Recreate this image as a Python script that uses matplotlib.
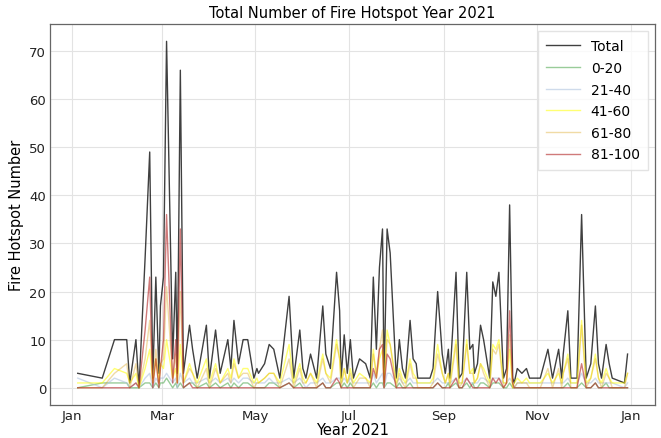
import matplotlib
matplotlib.use("Agg")
import matplotlib.pyplot as plt
import matplotlib.dates as mdates
import numpy as np
import pandas as pd

# Day-of-year offsets (from 2021-01-01) at which observations exist
days = [4, 20, 28, 36, 38, 42, 44, 48, 51, 53, 55, 57, 58, 60, 62, 66, 68, 69, 71, 73,
        77, 79, 82, 88, 90, 94, 97, 102, 104, 106, 109, 112, 115, 119, 121, 122, 126, 129, 132, 136,
        142, 145, 149, 151, 153, 156, 160, 164, 166, 169, 173, 175, 176, 178, 180, 182, 184, 188, 192, 195,
        197, 199, 201, 203, 204, 206, 208, 212, 214, 216, 218, 221, 223, 225, 226, 234, 236, 239, 242, 244,
        246, 247, 251, 253, 255, 258, 260, 262, 263, 265, 267, 269, 273, 275, 277, 279, 282, 284, 286, 288,
        289, 291, 294, 297, 299, 306, 311, 314, 318, 320, 321, 324, 326, 330, 333, 336, 339, 342, 344, 346,
        349, 351, 353, 361, 363]

total = [3, 2, 10, 10, 1, 10, 0, 27, 49, 2, 23, 3, 17, 23, 72, 6, 24, 3, 66, 3,
         13, 8, 2, 13, 2, 12, 3, 10, 4, 14, 5, 10, 10, 2, 4, 3, 5, 9, 8, 2,
         19, 2, 12, 4, 2, 7, 2, 17, 7, 4, 24, 16, 2, 11, 3, 10, 2, 6, 5, 2,
         23, 8, 25, 33, 1, 33, 28, 2, 10, 4, 2, 14, 6, 5, 2, 2, 4, 20, 7, 3,
         8, 2, 24, 2, 3, 24, 8, 9, 3, 5, 13, 10, 2, 22, 19, 24, 2, 4, 38, 2,
         1, 4, 3, 4, 2, 2, 8, 2, 8, 2, 7, 16, 2, 2, 36, 2, 5, 17, 5, 2,
         9, 5, 2, 1, 7]

c_0_20 = [0, 1, 1, 1, 0, 0, 0, 1, 1, 0, 1, 0, 1, 1, 2, 0, 1, 0, 1, 0,
          1, 1, 0, 1, 0, 1, 0, 1, 0, 1, 0, 1, 1, 0, 0, 0, 0, 1, 1, 0,
          1, 0, 1, 0, 0, 0, 0, 1, 0, 0, 1, 1, 0, 1, 0, 1, 0, 0, 0, 0,
          1, 0, 1, 1, 0, 1, 1, 0, 1, 0, 0, 1, 0, 0, 0, 0, 0, 1, 0, 0,
          1, 0, 1, 0, 0, 1, 0, 1, 0, 0, 1, 1, 0, 1, 1, 1, 0, 0, 1, 0,
          0, 0, 0, 0, 0, 0, 0, 0, 0, 0, 0, 1, 0, 0, 1, 0, 0, 1, 0, 0,
          1, 0, 0, 0, 0]

c_21_40 = [2, 0, 2, 1, 0, 1, 0, 2, 3, 0, 2, 1, 2, 2, 3, 1, 2, 0, 3, 1,
           2, 1, 1, 2, 1, 2, 1, 2, 1, 2, 1, 2, 2, 1, 1, 1, 1, 2, 1, 1,
           2, 1, 2, 1, 0, 1, 1, 2, 1, 1, 2, 2, 1, 2, 1, 2, 1, 1, 1, 1,
           3, 1, 2, 3, 0, 3, 3, 1, 2, 1, 1, 2, 1, 1, 1, 1, 1, 2, 1, 1,
           1, 1, 2, 1, 1, 2, 1, 1, 1, 1, 2, 2, 1, 2, 2, 2, 1, 1, 2, 1,
           0, 1, 1, 1, 1, 1, 1, 1, 1, 1, 1, 2, 1, 1, 3, 1, 1, 2, 1, 1,
           1, 1, 1, 0, 1]

c_41_60 = [1, 1, 4, 3, 1, 3, 0, 4, 8, 1, 6, 1, 5, 4, 10, 2, 4, 1, 9, 1,
           5, 3, 1, 6, 1, 5, 1, 4, 2, 6, 2, 4, 4, 1, 2, 1, 2, 3, 3, 1,
           9, 1, 5, 2, 1, 3, 1, 7, 3, 2, 10, 6, 1, 4, 1, 4, 1, 3, 2, 1,
           8, 2, 6, 8, 1, 12, 9, 1, 4, 2, 1, 6, 3, 2, 1, 1, 2, 9, 3, 1,
           3, 1, 10, 1, 1, 10, 3, 4, 1, 2, 5, 4, 1, 9, 8, 10, 1, 1, 8, 0,
           1, 2, 1, 2, 1, 1, 3, 1, 3, 1, 3, 7, 1, 1, 14, 1, 2, 7, 2, 1,
           4, 2, 1, 1, 3]

c_61_80 = [0, 0, 3, 5, 0, 5, 0, 6, 14, 1, 8, 1, 5, 6, 21, 2, 7, 1, 20, 1,
           4, 3, 0, 4, 0, 4, 1, 3, 1, 5, 2, 3, 3, 0, 1, 1, 2, 3, 3, 0,
           6, 0, 4, 1, 1, 3, 0, 6, 3, 1, 9, 6, 0, 4, 1, 3, 0, 2, 2, 0,
           7, 3, 8, 12, 0, 10, 9, 0, 3, 1, 0, 5, 2, 2, 0, 0, 1, 7, 3, 1,
           3, 0, 9, 0, 1, 9, 3, 3, 1, 2, 5, 3, 0, 8, 7, 9, 0, 1, 11, 0,
           0, 1, 1, 1, 0, 0, 4, 0, 4, 0, 3, 6, 0, 0, 13, 0, 2, 6, 2, 0,
           3, 2, 0, 0, 3]

c_81_100 = [0, 0, 0, 0, 0, 1, 0, 12, 23, 0, 6, 0, 4, 10, 36, 1, 10, 1, 33, 0,
            1, 0, 0, 0, 0, 0, 0, 0, 0, 0, 0, 0, 0, 0, 0, 0, 0, 0, 0, 0,
            1, 0, 0, 0, 0, 0, 0, 1, 0, 0, 2, 1, 0, 0, 0, 0, 0, 0, 0, 0,
            4, 2, 8, 9, 0, 7, 6, 0, 0, 0, 0, 0, 0, 0, 0, 0, 0, 1, 0, 0,
            0, 0, 2, 0, 0, 2, 1, 0, 0, 0, 0, 0, 0, 2, 1, 2, 0, 1, 16, 1,
            0, 0, 0, 0, 0, 0, 0, 0, 0, 0, 0, 0, 0, 0, 5, 0, 0, 1, 0, 0,
            0, 0, 0, 0, 0]

dates = pd.Timestamp("2021-01-01") + pd.to_timedelta(days, unit="D")

series = [
    ("Total", total, "black", 0.75, 1.0),
    ("0-20", c_0_20, "green", 0.4, 1.0),
    ("21-40", c_21_40, "lightsteelblue", 0.6, 1.0),
    ("41-60", c_41_60, "yellow", 0.55, 1.0),
    ("61-80", c_61_80, "goldenrod", 0.4, 1.0),
    ("81-100", c_81_100, "firebrick", 0.6, 1.0),
]

fig = plt.figure(figsize=(6.61, 4.39), dpi=100)
ax = fig.add_axes([0.076, 0.075, 0.915, 0.868])

for label, vals, color, alpha, lw in series:
    ax.plot(dates, vals, color=color, alpha=alpha, lw=lw, label=label)

ax.xaxis.set_major_locator(mdates.MonthLocator(bymonth=[1, 3, 5, 7, 9, 11]))
ax.xaxis.set_major_formatter(mdates.DateFormatter("%b"))
ax.set_yticks([0, 10, 20, 30, 40, 50, 60, 70])
ax.grid(True, color="#e3e3e3", lw=0.8)
ax.set_axisbelow(True)
for s in ax.spines.values():
    s.set_color("#666666")
    s.set_linewidth(0.9)
ax.tick_params(length=0, labelsize=9.5, colors="#222222", pad=3)

ax.set_title("Total Number of Fire Hotspot Year 2021", fontsize=10.5, pad=5)
ax.set_xlabel("Year 2021", fontsize=10.5, labelpad=0)
ax.set_ylabel("Fire Hotspot Number", fontsize=10.5, labelpad=4)

leg = ax.legend(loc="upper right", fontsize=10, frameon=True, fancybox=False,
                edgecolor="#dddddd", borderpad=0.6, labelspacing=0.55, handlelength=2.4)

fig.savefig("out.png", dpi=100)
